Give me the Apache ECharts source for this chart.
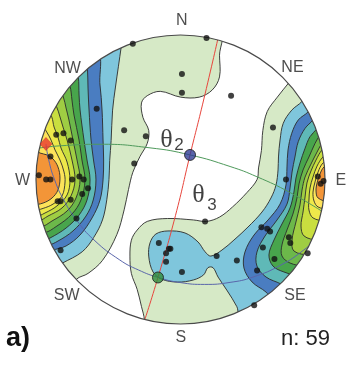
<!DOCTYPE html>
<html>
<head>
<meta charset="utf-8">
<script src="https://cdn.jsdelivr.net/npm/echarts@6/dist/echarts.min.js"></script>
<style>
  html, body { margin: 0; padding: 0; background: #fff; }
  #chart { width: 351px; height: 367px; }
</style>
</head>
<body>
<div id="chart"></div>
<script>
// stereonet units: primitive circle radius = 100, x east, y north

// poles (black dots)
const poles = [
  [-33, 94], [18, 98], [1, 73], [1, 60], [35, 58], [-58, 49], [-39, 34], [-24, 30], [-32, 11], [64, 36],
  [-86, 31], [-81, 32], [-76, 27], [-90, 16], [-98, 3], [-93, 0], [-90, 0], [-75, 0], [-70, 2], [-67, 0],
  [-64, -6], [-68, -10], [-83, -15], [-85, -15], [-76, -14], [-72, -27], [-83, -49],
  [73, 0], [95, 2], [97, -3], [99, -1], [56, -33], [60, -34], [62, -36], [75, -40], [76, -44], [57, -47],
  [65, -55], [88, -51], [39, -56], [53, -63], [51, -87], [25, -53], [17, -29],
  [-15, -44], [-8, -48], [-7, -48], [-10, -51], [-10, -57], [1, -64]
];

// principal stress axes
const sigma1 = [-93.1, 24.6];
const sigma2 = [6.6, 17];
const sigma3 = [-15.6, -67.8];

// great circles
const redArc = [[26, 97.9], [16, 55], [6.6, 17], [-3.5, -25], [-15.6, -67.8], [-25, -97.9]];
const greenArc = [[-97.6, 21.8], [-83.4, 23.3], [-55.7, 24.4], [-21.1, 21.9], [6.6, 17], [34.3, 9], [52.9, 1.9], [75.8, -9], [97.6, -21.8]];
const blueArc = [[-93.1, 24.6], [-91.2, 13.5], [-87.1, -0.3], [-80.8, -14.2], [-72, -28], [-59.8, -41.9], [-42, -55.7],
  [-29.1, -62.6], [-15.4, -67.8], [-0.3, -71.3], [16.7, -72.6], [34.3, -71.2], [50.2, -67.5], [69.5, -59.2], [85.3, -48.8], [95.1, -40.2]];

// density contour levels (lowest -> highest)
const levelColors = ['#d6e9c6', '#7fc6dc', '#4a7dc1', '#5fb9b7', '#48a54c', '#6cb84a', '#9fcd43', '#c9de3f', '#eee84a', '#fde25a', '#f39538'];

const westContours = [
  [[27, 103], [27, 86], [27, 71], [22, 62], [13, 57], [0, 57], [-14, 61], [-23, 58], [-27, 53], [-26, 43], [-22, 34], [-23, 25], [-28, 16], [-33, 5], [-36, -7], [-39, -21], [-44, -38], [-54, -56], [-64, -65], [-72, -69], [-90, -90]],
  [[-40, 100], [-41, 92], [-43, 78], [-45, 64], [-47, 48], [-48, 27], [-49, 13], [-49.5, 0], [-51, -14], [-54, -28], [-60, -40], [-68, -50], [-82, -58], [-95, -65]],
  [[-59.2, 89.6], [-55.7, 65.4], [-54.3, 48.1], [-53.6, 27.3], [-53.2, 13.5], [-53.6, -0.3], [-55.7, -14.2], [-61.2, -26.6], [-69.5, -38.4], [-79.2, -46], [-88.9, -49.5], [-93.8, -55.7]],
  [[-65.4, 84.1], [-64.4, 77.2], [-64, 63.3], [-63.3, 48.1], [-61.9, 27.3], [-60.2, 13.5], [-58.5, -0.3], [-60.4, -14.2], [-65.4, -25.3], [-74.4, -35.6], [-84.8, -42.6], [-91.7, -45.3]],
  [[-72.3, 75.8], [-70.7, 70.9], [-70.2, 58.5], [-69.5, 48.1], [-66.8, 27.3], [-64.7, 13.5], [-62.6, -0.3], [-64.7, -14.2], [-70.2, -24.6], [-79.2, -33.6], [-90.3, -40.5], [-94.5, -41.9]],
  [[-79.2, 68.9], [-76.5, 64.7], [-75.1, 55], [-73.7, 44.6], [-70.2, 27.3], [-68.2, 13.5], [-66.1, -0.3], [-68.9, -14.2], [-75.1, -23.9], [-85.5, -32.2], [-95.1, -37]],
  [[-83.4, 60.6], [-81.1, 57.1], [-79.2, 49.5], [-77.2, 41.2], [-74.4, 27.3], [-71.6, 13.5], [-69.5, -0.3], [-72.3, -12.8], [-78.5, -21.8], [-88.9, -28.7], [-97.2, -32.9]],
  [[-88.2, 53.6], [-85.7, 50.2], [-83.4, 43.3], [-81.3, 36.3], [-78.5, 27.3], [-75.1, 13.5], [-73, -0.3], [-75.8, -11.4], [-82, -19.7], [-91.7, -25.3], [-98.6, -28.7]],
  [[-91.7, 46.7], [-89.1, 43.3], [-87.5, 36.3], [-84.8, 29.4], [-82.7, 21.8], [-78.5, 12.1], [-76.5, -0.3], [-78.5, -10.7], [-85.5, -18.3], [-93.8, -23.2], [-100.7, -25.9]],
  [[-95.1, 35.6], [-92.6, 32.9], [-89.6, 27.3], [-86.8, 20.4], [-83.4, 13.5], [-80.6, 5.2], [-79.9, -1.7], [-82, -11.4], [-88.2, -17], [-95.1, -20], [-102.8, -21.8]],
  [[-101.4, 20.4], [-97.2, 18.3], [-92.4, 17], [-88.2, 14.2], [-84.8, 8.7], [-83.4, 1], [-84.8, -7.3], [-88.9, -12.8], [-95.1, -16.3], [-102.8, -17.6]]
];

const eastContours = [
  [[79, 72], [75, 67], [67, 57], [60, 47], [57, 34], [56, 20], [54, 8], [53, 0], [46, -9], [36, -19], [27, -26], [18, -29], [9, -28], [-9, -27], [-23, -29], [-30, -35], [-34, -42], [-35, -53], [-34, -65], [-30, -76], [-27, -88], [-25, -97], [-25, -115]],
  [[86, 58.5], [84, 54], [77, 48], [71.1, 38.9], [68.9, 27.3], [67.8, 15.6], [67.5, 6.6], [66.1, -3.8], [62.6, -12.8], [56.4, -22.5], [46.7, -32.9], [37, -41.9], [28.7, -48.8], [21, -53], [17, -50], [12.1, -43.2], [3.1, -37], [-8.7, -35.6], [-17, -37.7], [-21.1, -43.9], [-22, -53], [-19, -64], [-13, -69], [-2, -71], [9, -69.5], [16, -66], [19, -61], [22.5, -61], [26, -67.5], [32, -76.5], [39, -88], [42, -96]],
  [[91, 52.2], [88.4, 46.9], [81.5, 41.2], [77, 32], [74.4, 20.4], [73.7, 8.7], [73, -3.8], [68.9, -17], [60.6, -28], [50.9, -38.4], [44.6, -50.2], [43.9, -61.2], [49.5, -70.9], [59.2, -77.9], [65.4, -84.8]],
  [[95.2, 46.7], [91.7, 41.2], [86.2, 35.4], [81.5, 26.2], [79.2, 15.6], [77.2, 5.2], [75.8, -5.9], [73.7, -17], [66.8, -28], [58.5, -39.1], [52.9, -50.2], [52.9, -59.9], [59.2, -67.5], [69.5, -72.3], [75.8, -76.5]],
  [[97.9, 40.5], [94.7, 35.4], [89.6, 29.6], [86.2, 21.6], [82.7, 11.4], [79.9, 1], [78.5, -8.7], [75.8, -19.7], [70.2, -30.8], [64.7, -41.9], [61.2, -52.2], [64, -59.9], [71.6, -64], [82.7, -66.8]],
  [[100, 35.6], [96.5, 30.8], [93.1, 25], [88.9, 15.6], [84.8, 6.6], [82, -3.1], [80.6, -12.8], [77.8, -23.9], [73.7, -34.9], [70.2, -45.3], [70.2, -52.9], [75.8, -57.8], [86.2, -59.9]],
  [[101.4, 30.1], [98.4, 26.2], [94.5, 19], [90.3, 10.7], [86.2, 1.7], [84.1, -7.3], [82.7, -17.6], [79.9, -29.4], [77.2, -41.9], [78.5, -49.5], [89.6, -52.2]],
  [[102.8, 23.9], [97.9, 20.4], [93.8, 13.5], [90.3, 5.9], [87.5, -2.4], [86.2, -12.1], [84.8, -22.5], [83.4, -32.2], [85.5, -39.1], [95.2, -41.9]],
  [[103.5, 19], [98.6, 15.6], [94.5, 9.3], [91.7, 1.7], [89.6, -5.9], [88.9, -14.2], [88.9, -21.1], [91.7, -26.6], [100.7, -28.7]],
  [[103.5, 13.5], [98.6, 11.4], [95.2, 5.2], [93.1, -1.7], [91.7, -8.7], [92.4, -14.9], [95.2, -19], [102.1, -20.4]],
  [[103.5, 10], [99.3, 8.7], [96.5, 3.8], [94.5, -2.4], [93.8, -8], [95.2, -12.8], [103.5, -15.6]]
];

const dirNames = ['N', 'NE', 'E', 'SE', 'S', 'SW', 'W', 'NW'];
const dirPos = [[0.8, 109.8], [77.5, 77.5], [110.9, -0.9], [79.2, -80.5], [0.2, -109.7], [-78.8, -80.5], [-109.3, -0.9], [-78.2, 76.5]];

const thetaLabels = [
  { name: 'θ', value: [-9.7, 27.3], sub: '2', subValue: [-1, 23.9] },
  { name: 'θ', value: [12.5, -11.1], sub: '3', subValue: [21.8, -17.6] }
];
const sampleCount = 59;

// draw each level west then east so higher levels sit on top
const bands = [];
levelColors.forEach((color, i) => {
  bands.push({ pts: westContours[i], side: -1, color });
  bands.push({ pts: eastContours[i], side: 1, color });
});

const chart = echarts.init(document.getElementById('chart'));

const option = {
  animation: false,
  backgroundColor: '#fff',
  grid: { left: 36, top: 35, width: 289, height: 289 },
  xAxis: { type: 'value', min: -100, max: 100, show: false },
  yAxis: { type: 'value', min: -100, max: 100, show: false },
  graphic: [
    { type: 'text', x: 6, y: 339, z: 100, style: { text: 'a)', font: 'bold 27px "Liberation Sans", Arial, sans-serif', fill: '#111', verticalAlign: 'middle' } },
    { type: 'text', right: 21, y: 339, z: 100, style: { text: 'n: ' + sampleCount, font: '22px "Liberation Sans", Arial, sans-serif', fill: '#222', verticalAlign: 'middle' } }
  ],
  series: [
    {
      type: 'custom',
      coordinateSystem: 'cartesian2d',
      z: 1,
      silent: true,
      clip: false,
      data: bands.map(() => [0, 0]),
      renderItem: (params, api) => {
        const b = bands[params.dataIndex];
        const pts = b.pts.slice();
        pts.push([b.side * 140, pts[pts.length - 1][1]], [b.side * 140, pts[0][1]]);
        return {
          type: 'polygon',
          shape: { points: pts.map(p => api.coord(p)), smooth: 0.35 },
          style: { fill: b.color, stroke: '#2b2b2b', lineWidth: 0.9 }
        };
      }
    },
    { type: 'line', data: redArc, smooth: true, symbol: 'none', z: 2, lineStyle: { color: '#e8453c', width: 1 } },
    { type: 'line', data: greenArc, smooth: true, symbol: 'none', z: 2, lineStyle: { color: '#4f9a5c', width: 1 } },
    { type: 'line', data: blueArc, smooth: true, symbol: 'none', z: 2, lineStyle: { color: '#5a66ab', width: 1 } },
    {
      // white mask outside the primitive circle + the circle itself
      type: 'custom',
      coordinateSystem: 'cartesian2d',
      z: 3,
      silent: true,
      clip: false,
      data: [[0, 0]],
      renderItem: (params, api) => {
        const c = api.coord([0, 0]);
        const r = api.coord([100, 0])[0] - c[0];
        return {
          type: 'group',
          children: [
            { type: 'ring', shape: { cx: c[0], cy: c[1], r: 700, r0: r }, style: { fill: '#fff' } },
            { type: 'circle', shape: { cx: c[0], cy: c[1], r: r }, style: { fill: 'none', stroke: '#4a4a4a', lineWidth: 1.2 } }
          ]
        };
      }
    },
    { type: 'scatter', data: poles, symbolSize: 6, z: 5, clip: false, itemStyle: { color: '#111' } },
    {
      type: 'scatter',
      z: 6,
      clip: false,
      data: [
        { value: sigma1, symbol: 'diamond', symbolSize: [12, 13], itemStyle: { color: '#e8392f', borderColor: '#b22', borderWidth: 0.5 } },
        { value: sigma2, symbol: 'circle', symbolSize: 11, itemStyle: { color: '#2f3f96', borderColor: '#1a1a1a', borderWidth: 1 } },
        { value: sigma3, symbol: 'circle', symbolSize: 11, itemStyle: { color: '#2f8b3c', borderColor: '#1a1a1a', borderWidth: 1 } }
      ]
    },
    {
      type: 'scatter',
      z: 7,
      clip: false,
      silent: true,
      symbolSize: 1,
      itemStyle: { color: 'rgba(0,0,0,0)' },
      data: dirNames.map((n, i) => ({ name: n, value: dirPos[i] })),
      label: { show: true, position: 'inside', formatter: '{b}', fontSize: 16, color: '#222', fontFamily: '"Liberation Sans", Arial, sans-serif' }
    },
    {
      type: 'scatter',
      z: 7,
      clip: false,
      silent: true,
      symbolSize: 1,
      itemStyle: { color: 'rgba(0,0,0,0)' },
      data: thetaLabels.map(t => ({ name: t.name, value: t.value })),
      label: { show: true, position: 'inside', formatter: '{b}', fontSize: 26, color: '#111', fontFamily: '"Liberation Serif", "Times New Roman", serif' }
    },
    {
      type: 'scatter',
      z: 7,
      clip: false,
      silent: true,
      symbolSize: 1,
      itemStyle: { color: 'rgba(0,0,0,0)' },
      data: thetaLabels.map(t => ({ name: t.sub, value: t.subValue })),
      label: { show: true, position: 'inside', formatter: '{b}', fontSize: 17, color: '#111', fontFamily: '"Liberation Sans", Arial, sans-serif' }
    }
  ]
};

chart.setOption(option);
</script>
</body>
</html>
